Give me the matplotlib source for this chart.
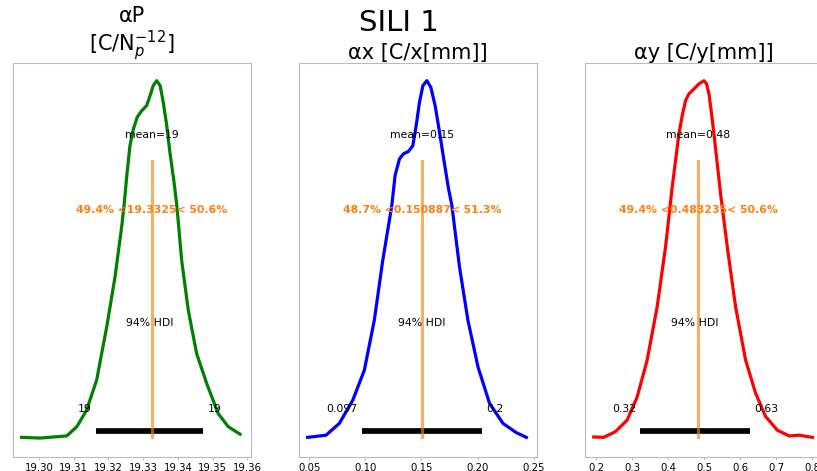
import matplotlib
matplotlib.use("Agg")
import matplotlib.pyplot as plt

# posterior KDE curves (peak scaled to 1)
ap_x = [19.2950, 19.3003, 19.3080, 19.3109, 19.3137, 19.3166, 19.3195, 19.3219,
        19.3238, 19.3245, 19.3253, 19.3262, 19.3272, 19.3283, 19.3296, 19.3310,
        19.3320, 19.3329, 19.3339, 19.3349, 19.3358, 19.3368, 19.3377, 19.3389,
        19.3397, 19.3411, 19.3430, 19.3454, 19.3483, 19.3516, 19.3545, 19.3579]
ap_y = [0.002, 0.000, 0.006, 0.032, 0.078, 0.162, 0.311, 0.451,
        0.590, 0.651, 0.735, 0.818, 0.865, 0.898, 0.916, 0.930,
        0.958, 0.986, 1.000, 0.986, 0.939, 0.874, 0.800, 0.716,
        0.651, 0.497, 0.358, 0.237, 0.153, 0.069, 0.032, 0.011]

ax_x = [0.0486, 0.0649, 0.0768, 0.0888, 0.0991, 0.1080, 0.1155, 0.1236, 0.1265,
        0.1304, 0.1339, 0.1384, 0.1423, 0.1453, 0.1482, 0.1513, 0.1548, 0.1584,
        0.1622, 0.1661, 0.1703, 0.1741, 0.1771, 0.1839, 0.1914, 0.2004, 0.2107,
        0.2227, 0.2346, 0.2435]
ax_y = [0.002, 0.008, 0.041, 0.106, 0.190, 0.330, 0.497, 0.651, 0.735,
        0.781, 0.795, 0.802, 0.818, 0.874, 0.939, 0.986, 1.000, 0.981,
        0.930, 0.856, 0.772, 0.698, 0.651, 0.479, 0.330, 0.199, 0.097,
        0.041, 0.015, 0.002]

ay_x = [0.1936, 0.2214, 0.2537, 0.2861, 0.3139, 0.3417, 0.3694, 0.3926, 0.4111,
        0.4297, 0.4389, 0.4481, 0.4575, 0.4667, 0.4853, 0.4992, 0.5064, 0.5131,
        0.5203, 0.5269, 0.5453, 0.5639, 0.5869, 0.6147, 0.6425, 0.6703, 0.7028,
        0.7353, 0.7631, 0.8000]
ay_y = [0.003, 0.002, 0.018, 0.050, 0.115, 0.218, 0.367, 0.534, 0.702,
        0.851, 0.902, 0.944, 0.963, 0.972, 0.991, 1.000, 0.991, 0.963,
        0.907, 0.851, 0.683, 0.534, 0.367, 0.218, 0.125, 0.060, 0.022,
        0.006, 0.008, 0.002]

titles = ["αP\n[C/N$_p^{-12}$]", "αx [C/x[mm]]", "αy [C/y[mm]]"]
title_pads = [0, 3, 3]
colors = ["green", "blue", "red"]
curves_x = [ap_x, ax_x, ay_x]
curves_y = [ap_y, ax_y, ay_y]

mean_labels = ["mean=19", "mean=0.15", "mean=0.48"]
ref_vals = [19.3325, 0.150887, 0.483235]
ref_texts = ["49.4% <19.3325< 50.6%", "48.7% <0.150887< 51.3%", "49.4% <0.483235< 50.6%"]
hdi_low = [19.3164, 0.0968, 0.3231]
hdi_high = [19.3473, 0.2042, 0.6258]
hdi_low_lbl = ["19", "0.097", "0.32"]
hdi_high_lbl = ["19", "0.2", "0.63"]

xlims = [(19.2925, 19.3610), (0.0411, 0.2530), (0.1686, 0.8278)]
xticks = [[19.30, 19.31, 19.32, 19.33, 19.34, 19.35, 19.36],
          [0.05, 0.10, 0.15, 0.20, 0.25],
          [0.2, 0.3, 0.4, 0.5, 0.6, 0.7, 0.8]]
xticklabels = [["19.30", "19.31", "19.32", "19.33", "19.34", "19.35", "19.36"],
               ["0.05", "0.10", "0.15", "0.20", "0.25"],
               ["0.2", "0.3", "0.4", "0.5", "0.6", "0.7", "0.8"]]

fig = plt.figure(figsize=(8.17, 4.71), dpi=100)
lefts = [0.0159, 0.3663, 0.7157]

for i in range(3):
    ax = fig.add_axes([lefts[i], 0.0297, 0.291, 0.837])
    ax.plot(curves_x[i], curves_y[i], color=colors[i], lw=2.3,
            solid_joinstyle="round")
    ax.set_xlim(*xlims[i])
    ax.set_ylim(-0.053, 1.05)

    # hdi bar and labels
    ax.plot([hdi_low[i], hdi_high[i]], [0.0196, 0.0196], color="k", lw=4.1,
            solid_capstyle="butt")
    ax.annotate(hdi_low_lbl[i], (hdi_low[i], 0.081), xytext=(-3, 0),
                textcoords="offset points", ha="right", va="center", fontsize=7.8)
    ax.annotate(hdi_high_lbl[i], (hdi_high[i], 0.081), xytext=(3, 0),
                textcoords="offset points", ha="left", va="center", fontsize=7.8)
    ax.text((hdi_low[i] + hdi_high[i]) / 2, 0.323, "94% HDI", ha="center",
            va="center", fontsize=7.8)

    # reference value
    ax.axvline(ref_vals[i], ymin=0.05, ymax=0.75, color="C1", alpha=0.65, lw=2.2)
    ax.text(ref_vals[i], 0.637, ref_texts[i], ha="center", va="center",
            fontsize=7.8, fontweight="bold", color="C1")
    ax.text(ref_vals[i], 0.849, mean_labels[i], ha="center", va="center",
            fontsize=7.8)

    ax.set_title(titles[i], fontsize=15, pad=title_pads[i], linespacing=1.1)
    ax.set_yticks([])
    ax.set_xticks(xticks[i])
    ax.set_xticklabels(xticklabels[i])
    ax.tick_params(axis="x", labelsize=7.3, length=2.5, pad=1.5, color="#bbbbbb")
    for s in ax.spines.values():
        s.set_color("#bbbbbb")
        s.set_linewidth(0.8)

fig.text(0.488, 0.952, "SILI 1", ha="center", va="center", fontsize=21)

fig.savefig("out.png", dpi=100)
